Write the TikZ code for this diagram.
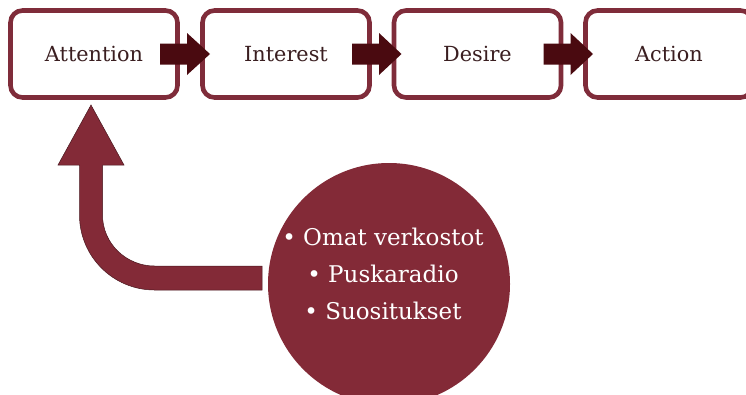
\documentclass[tikz,border=0pt]{standalone}
\usepackage{fontspec}
\setmainfont{DejaVu Serif}
\usetikzlibrary{calc}
\definecolor{boxred}{HTML}{7F2C3A}
\definecolor{darkarrow}{HTML}{4A0A10}
\definecolor{circred}{HTML}{832A37}
\definecolor{txtdark}{HTML}{3A1E20}
\begin{document}
\begin{tikzpicture}[x=1pt,y=-1pt,
  stagebox/.style={draw=boxred, line width=4.6pt, rounded corners=12pt, fill=white,
    minimum width=167pt, minimum height=87pt, text=txtdark, outer sep=0pt,
    font=\fontsize{20.8}{24}\selectfont, inner sep=0pt},
  blockarrow/.style={fill=darkarrow},
  bentarrow/.style={fill=circred, draw=circred!55!black, line width=0.5pt},
  sourcecircle/.style={circle, fill=circred, minimum size=242pt, inner sep=0pt},
  sourcetext/.style={text=white, align=center, font=\fontsize{23}{37}\selectfont}
  ]
\useasboundingbox (0,0) rectangle (746,394);
\node[stagebox] (att) at (94,54) {Attention};
\node[stagebox] (int) at (286,54) {Interest};
\node[stagebox] (des) at (477.5,54) {Desire};
\node[stagebox] (act) at (669,54) {Action};
\foreach \a/\b in {att/int,int/des,des/act} {
  \fill[blockarrow] ($(\a.east)+(-17.5,-10.5)$) -- ($(\a.east)+(9.5,-10.5)$)
    -- ($(\a.east)+(9.5,-21)$) -- ($(\b.west)+(7.5,0)$) -- ($(\a.east)+(9.5,21)$)
    -- ($(\a.east)+(9.5,10.5)$) -- ($(\a.east)+(-17.5,10.5)$) -- cycle;
}
\node[sourcecircle] (src) at (389,284) {};
\node[sourcetext] (srctxt) at (383,274) {• Omat verkostot\\ • Puskaradio\\ • Suositukset};
\coordinate (tip) at ($(att.south)+(-3,7.5)$);
\coordinate (send) at ($(src.west)+(-6,-6)$);
\begin{scope}[shift={(tip)}]
\draw[bentarrow] (171,185) -- (63.5,185)
  .. controls (22.1,185) and (-11.5,151.4) .. (-11.5,110)
  -- (-11.5,60) -- (-33,60) -- (0,0) -- (33,60) -- (11.5,60) -- (11.5,110)
  .. controls (11.5,138.4) and (35.1,161) .. (63.5,161)
  -- (171,161) -- cycle;
\end{scope}
\end{tikzpicture}
\end{document}
